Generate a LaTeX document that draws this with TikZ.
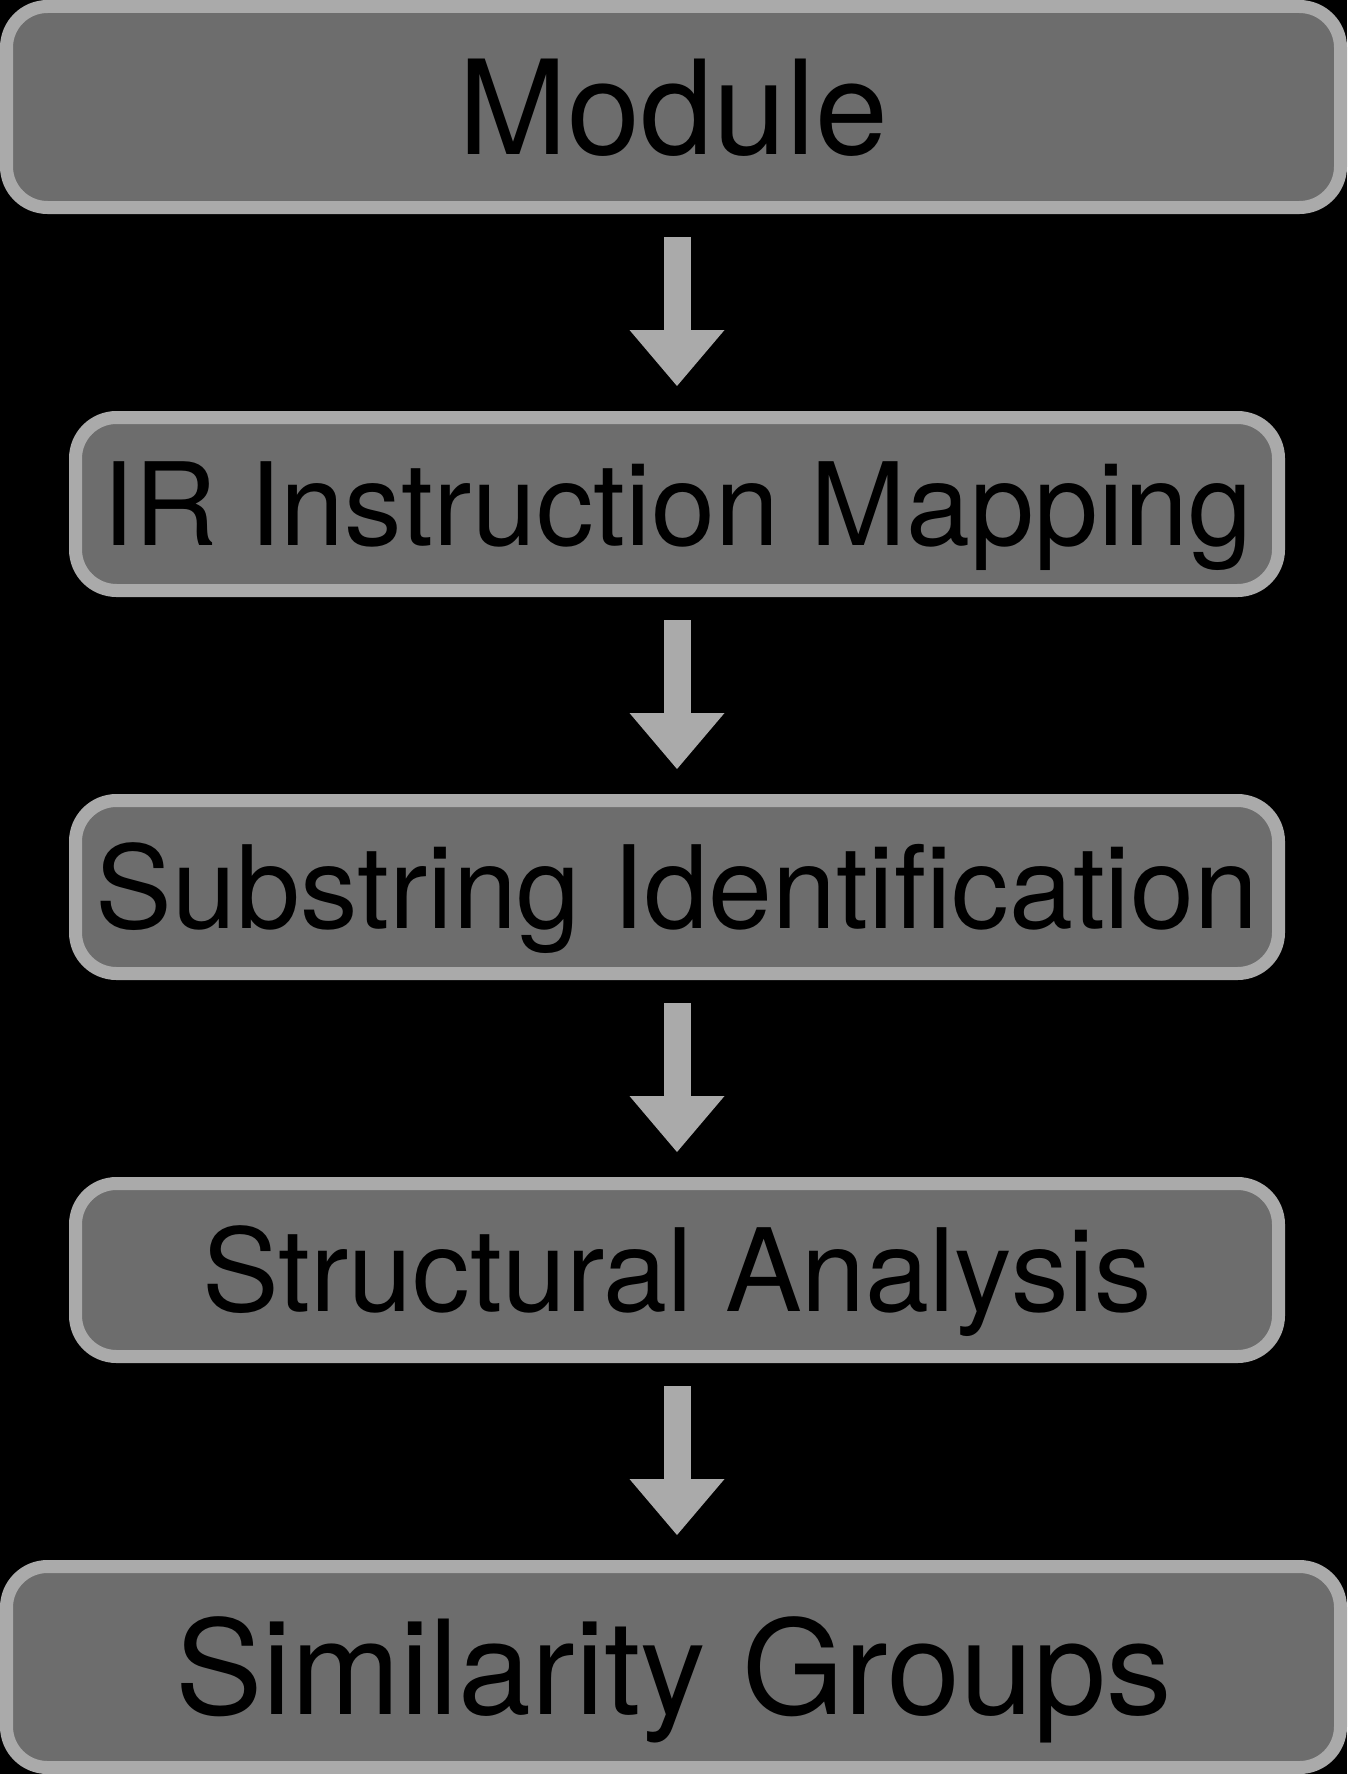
\documentclass[tikz,border=0pt]{standalone}
\usepackage{fontspec}
\setmainfont{TeX Gyre Heros}
\usetikzlibrary{positioning,arrows.meta}
\definecolor{edgegray}{HTML}{AAAAAA}
\definecolor{boxgray}{HTML}{6D6D6D}
\begin{document}
\begin{tikzpicture}[x=1pt, y=1pt, node distance=197pt,
box/.style={draw=edgegray, fill=boxgray, line width=13pt, rounded corners=41pt,
  text=black, inner sep=0pt, text depth=0pt},
endbox/.style={box, minimum width=1334pt, minimum height=201pt,
  font=\fontsize{131}{133}\selectfont, text height=94pt},
stepbox/.style={box, minimum width=1203pt, minimum height=173pt,
  font=\fontsize{115}{117}\selectfont, text height=82.5pt},
flow/.style={draw=edgegray, line width=27pt, shorten <=23pt, shorten >=25pt,
  -{Triangle[width=95pt, length=56pt, line width=0pt]}}]
\fill[black] (0,0) rectangle (1347,-1774);
\useasboundingbox (0,0) rectangle (1347,-1774);
\node[endbox] (module) at (673.5,-107) {Module};
\node[stepbox, below=of module, xshift=3.5pt] (mapping) {IR Instruction Mapping};
\node[stepbox, below=of mapping] (substring) {Substring Identification};
\node[stepbox, below=of substring] (structural) {Structural Analysis};
\node[endbox, below=of structural, xshift=-3.5pt] (groups) {Similarity Groups};
% pipeline arrows
\draw[flow] (mapping.north |- module.south) -- (mapping.north);
\draw[flow] (mapping) -- (substring);
\draw[flow] (substring) -- (structural);
\draw[flow] (structural.south) -- (structural.south |- groups.north);
\end{tikzpicture}
\end{document}
